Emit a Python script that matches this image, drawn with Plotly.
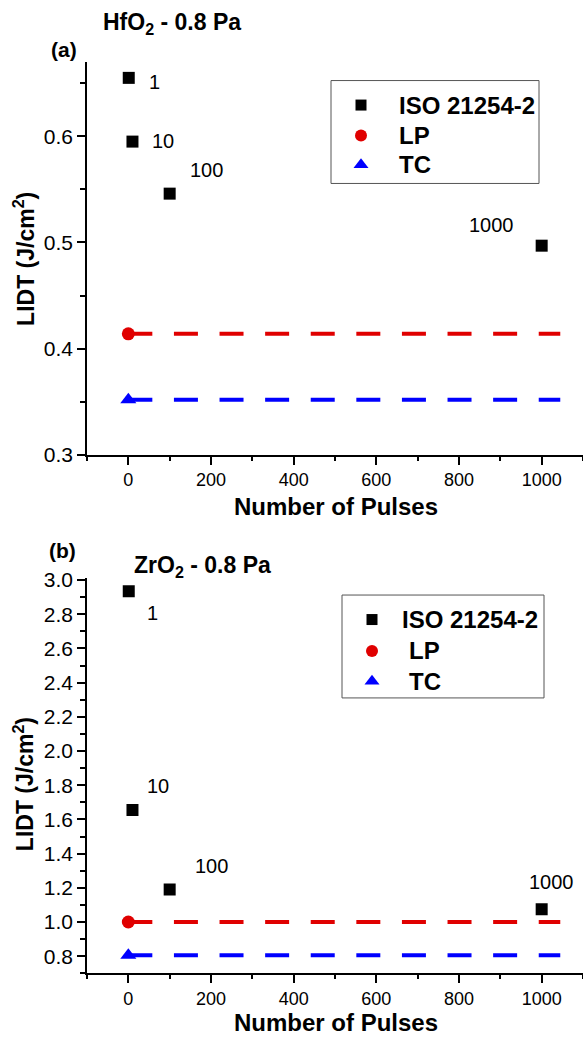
import plotly.graph_objects as go

# ---- data ----
pulses = [1, 10, 100, 1000]
pulse_labels = ["1", "10", "100", "1000"]

hfo2_iso = [0.655, 0.595, 0.546, 0.497]
hfo2_lp = 0.414
hfo2_tc = 0.352

zro2_iso = [2.935, 1.655, 1.19, 1.075]
zro2_lp = 1.0
zro2_tc = 0.805

series_names = ["ISO 21254-2", "LP", "TC"]

line_span = [0, 1045]          # extent of the LP / TC reference lines
marker_x = [0]                  # LP / TC single-shot point

# ---- styles ----
FONT = "Liberation Sans, Arial, sans-serif"
BLACK = "#000000"
RED = "#e00000"
BLUE = "#0000ff"
DASH = "24px,21.6px"
SYMBOLS = ["square", "circle", "triangle-up"]
COLORS = [BLACK, RED, BLUE]
SIZES = [12, 13, 14]

W, H = 583, 1048

def py(px):
    return 1 - px / H

fig = go.Figure()

panels = [
    dict(iso=hfo2_iso, lp=hfo2_lp, tc=hfo2_tc, xa="x", ya="y"),
    dict(iso=zro2_iso, lp=zro2_lp, tc=zro2_tc, xa="x2", ya="y2"),
]

for p in panels:
    fig.add_trace(go.Scatter(
        x=line_span, y=[p["lp"]] * len(line_span), mode="lines",
        line=dict(color=RED, width=4, dash=DASH),
        xaxis=p["xa"], yaxis=p["ya"], hoverinfo="skip"))
    fig.add_trace(go.Scatter(
        x=line_span, y=[p["tc"]] * len(line_span), mode="lines",
        line=dict(color=BLUE, width=4, dash=DASH),
        xaxis=p["xa"], yaxis=p["ya"], hoverinfo="skip"))
    fig.add_trace(go.Scatter(
        x=pulses, y=p["iso"], mode="markers", name=series_names[0],
        marker=dict(symbol=SYMBOLS[0], size=SIZES[0], color=BLACK),
        xaxis=p["xa"], yaxis=p["ya"]))
    fig.add_trace(go.Scatter(
        x=marker_x, y=[p["lp"]], mode="markers", name=series_names[1],
        marker=dict(symbol=SYMBOLS[1], size=SIZES[1], color=RED),
        xaxis=p["xa"], yaxis=p["ya"]))
    fig.add_trace(go.Scatter(
        x=marker_x, y=[p["tc"]], mode="markers", name=series_names[2],
        marker=dict(symbol=SYMBOLS[2], size=SIZES[2], color=BLUE),
        xaxis=p["xa"], yaxis=p["ya"]))

# ---- legend boxes (pixel layout on a hidden overlay axis) ----
legend_boxes = [
    dict(x0=331, x1=539, y0=72, y1=177, sym_x=361, text_x=[397, 397, 397], rows=[97, 128, 158]),
    dict(x0=342, x1=544, y0=597, y1=702, sym_x=372, text_x=[400, 407, 407], rows=[622, 654, 685]),
]
shapes = []
annotations = []
for lb in legend_boxes:
    shapes.append(dict(type="rect", xref="paper", yref="paper",
                       x0=lb["x0"] / W, x1=lb["x1"] / W, y0=py(lb["y1"]), y1=py(lb["y0"]),
                       line=dict(color="#555555", width=1), fillcolor="rgba(0,0,0,0)"))
    for i, name in enumerate(series_names):
        fig.add_trace(go.Scatter(
            x=[lb["sym_x"]], y=[lb["rows"][i]], mode="markers",
            marker=dict(symbol=SYMBOLS[i], size=SIZES[i] - 1, color=COLORS[i]),
            xaxis="x3", yaxis="y3", hoverinfo="skip", cliponaxis=False))
        annotations.append(dict(
            text=f"<b>{name}</b>", x=lb["text_x"][i] / W, y=py(lb["rows"][i]),
            xref="paper", yref="paper", xanchor="left", yanchor="middle",
            showarrow=False, font=dict(family=FONT, size=24, color=BLACK)))

axis_common = dict(
    showline=True, linecolor=BLACK, linewidth=1.5, mirror=False,
    showgrid=False, zeroline=False, ticks="outside", ticklen=8,
    tickwidth=1.5, tickcolor=BLACK,
)
xaxis_common = dict(
    axis_common, range=[-100, 1100], tick0=0, dtick=200,
    tickfont=dict(family=FONT, size=18, color=BLACK),
    minor=dict(ticks="outside", ticklen=4, tickwidth=1.5, tickcolor=BLACK, dtick=100, tick0=0),
)
yfont = dict(family=FONT, size=21, color=BLACK)

x_dom = [87 / W, 1.0]
fig.update_layout(
    width=W, height=H,
    margin=dict(l=0, r=0, t=0, b=0),
    paper_bgcolor="white", plot_bgcolor="rgba(0,0,0,0)",
    font=dict(family=FONT, color=BLACK),
    showlegend=False,
    xaxis=dict(xaxis_common, domain=x_dom, anchor="y"),
    yaxis=dict(axis_common, domain=[py(454), py(53)], range=[0.3, 0.67],
               tick0=0.3, dtick=0.1, tickformat=".1f", tickfont=yfont, anchor="x",
               minor=dict(ticks="outside", ticklen=5, tickwidth=1.5, tickcolor=BLACK, dtick=0.05, tick0=0.3)),
    xaxis2=dict(xaxis_common, domain=x_dom, anchor="y2"),
    yaxis2=dict(axis_common, domain=[py(983), py(580)], range=[0.7, 3.01],
                tick0=0.8, dtick=0.2, tickformat=".1f", tickfont=yfont, anchor="x2",
                minor=dict(ticks="outside", ticklen=5, tickwidth=1.5, tickcolor=BLACK, dtick=0.1, tick0=0.8)),
    xaxis3=dict(domain=[0, 1], range=[0, W], visible=False, anchor="y3", fixedrange=True),
    yaxis3=dict(domain=[0, 1], range=[H, 0], visible=False, anchor="x3", fixedrange=True),
)

# panel labels, titles and axis titles
def paper_text(text, x, y, size, bold=True, xanchor="center", textangle=0):
    return dict(text=f"<b>{text}</b>" if bold else text, x=x / W, y=py(y),
                xref="paper", yref="paper", xanchor=xanchor, yanchor="middle",
                showarrow=False, textangle=textangle,
                font=dict(family=FONT, size=size, color=BLACK))

annotations += [
    paper_text("HfO<sub>2</sub> - 0.8 Pa", 172, 14, 23),
    paper_text("(a)", 64, 40, 21),
    paper_text("Number of Pulses", 336, 507, 24),
    paper_text("LIDT (J/cm<sup>2</sup>)", 24, 254, 23, textangle=-90),
    paper_text("ZrO<sub>2</sub> - 0.8 Pa", 202, 568, 23),
    paper_text("(b)", 62, 552, 21),
    paper_text("Number of Pulses", 336, 1033, 24),
    paper_text("LIDT (J/cm<sup>2</sup>)", 24, 790, 23, textangle=-90),
]

# pulse-count labels next to the ISO points (pixel offsets from each point)
offsets_a = [(26, -4), (31, 1), (37, 24), (-50, 21)]
offsets_b = [(24, -22), (26, 24), (42, 24), (10, 27)]
for (xa, ya, vals, offs) in [("x", "y", hfo2_iso, offsets_a), ("x2", "y2", zro2_iso, offsets_b)]:
    for xv, yv, lab, (dx, dy) in zip(pulses, vals, pulse_labels, offs):
        annotations.append(dict(
            text=lab, x=xv, y=yv, xref=xa, yref=ya, showarrow=False,
            xshift=dx, yshift=dy, font=dict(family=FONT, size=20, color=BLACK)))

fig.update_layout(annotations=annotations, shapes=shapes)

fig.write_html("out.html")
